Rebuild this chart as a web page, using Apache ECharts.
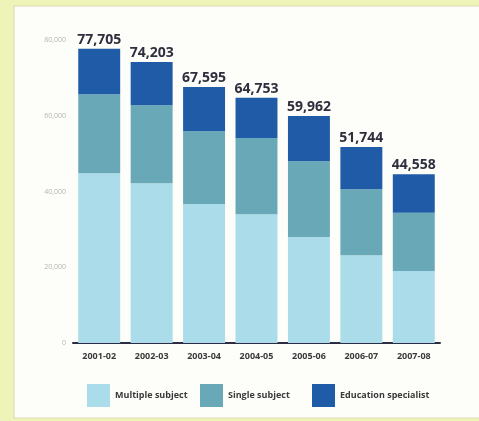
<!DOCTYPE html>
<html>
<head>
<meta charset="utf-8">
<script src="https://cdn.jsdelivr.net/npm/echarts@6/dist/echarts.min.js"></script>
<style>
  html, body { margin: 0; padding: 0; background: #eef3b7; overflow: hidden; }
  #chart { width: 479px; height: 421px; }
</style>
</head>
<body>
<div id="chart"></div>
<script>
// Academic years on the category axis
const years = ['2001-02', '2002-03', '2003-04', '2004-05', '2005-06', '2006-07', '2007-08'];

// Credential counts per type, stacked in each year
const multipleSubject = [44800, 42200, 36700, 34000, 28000, 23200, 19000];
const singleSubject = [20900, 20600, 19200, 20100, 20000, 17400, 15400];
const educationSpecialist = [12005, 11403, 11695, 10653, 11962, 11144, 10158];

// Value-axis ticks
const yTicks = [0, 20000, 40000, 60000, 80000];

// Series names, in stacking order
const seriesNames = ['Multiple subject', 'Single subject', 'Education specialist'];

const fmt = v => v.toLocaleString('en-US');
const totals = years.map((_, i) => multipleSubject[i] + singleSubject[i] + educationSpecialist[i]);

const chart = echarts.init(document.getElementById('chart'), null, { renderer: 'canvas' });

const labelFont = '"Open Sans", "DejaVu Sans", sans-serif';

// One legend block per series so each swatch sits at its own fixed spot
const legendLefts = [87, 200, 312];
const legends = seriesNames.map((name, i) => ({
  left: legendLefts[i],
  top: 384,
  padding: 0,
  itemWidth: 23,
  itemHeight: 23,
  icon: 'rect',
  textStyle: {
    color: '#3a3a3a',
    fontFamily: labelFont,
    fontWeight: 'bold',
    fontSize: 9
  },
  data: [name]
}));

chart.setOption({
  animation: false,
  backgroundColor: 'transparent',
  graphic: [{
    type: 'rect',
    z: -10,
    shape: { x: 14, y: 6, width: 480, height: 412 },
    style: { fill: '#fdfdf9', stroke: '#d9dcae', lineWidth: 1 }
  }],
  grid: { left: 73, right: 39, top: 40, bottom: 78 },
  xAxis: {
    type: 'category',
    data: years,
    axisLine: { lineStyle: { color: '#2b2d44', width: 2 } },
    axisTick: { show: false },
    axisLabel: {
      margin: 9,
      color: '#3a3a3a',
      fontFamily: labelFont,
      fontWeight: 'bold',
      fontSize: 9
    }
  },
  yAxis: {
    type: 'value',
    min: yTicks[0],
    max: yTicks[yTicks.length - 1],
    interval: yTicks[1] - yTicks[0],
    splitLine: { show: false },
    axisLine: { show: false },
    axisTick: { show: false },
    axisLabel: {
      margin: 7,
      color: '#b4b4b4',
      fontFamily: labelFont,
      fontSize: 7,
      formatter: v => fmt(v)
    }
  },
  legend: legends,
  series: [
    {
      name: seriesNames[0],
      type: 'bar',
      stack: 'total',
      barCategoryGap: '20%',
      itemStyle: { color: '#aadcea' },
      data: multipleSubject
    },
    {
      name: seriesNames[1],
      type: 'bar',
      stack: 'total',
      itemStyle: { color: '#69a9b7' },
      data: singleSubject
    },
    {
      name: seriesNames[2],
      type: 'bar',
      stack: 'total',
      itemStyle: { color: '#1f5ba6' },
      data: educationSpecialist,
      label: {
        show: true,
        position: 'top',
        distance: 2,
        color: '#2e2e3e',
        fontFamily: labelFont,
        fontWeight: 'bold',
        fontSize: 14,
        formatter: p => fmt(totals[p.dataIndex])
      }
    }
  ]
});
</script>
</body>
</html>
